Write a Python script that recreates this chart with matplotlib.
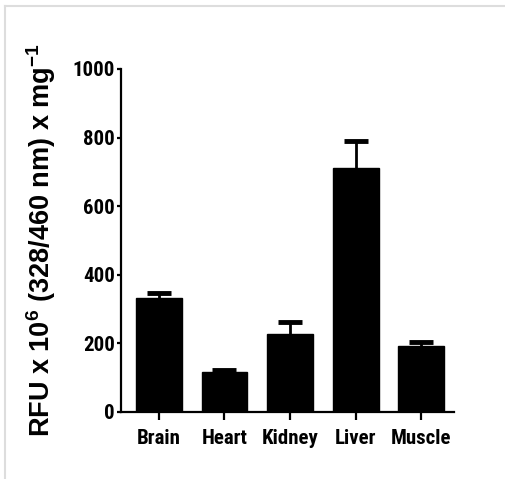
import matplotlib
matplotlib.use("Agg")
import matplotlib.pyplot as plt
from matplotlib.lines import Line2D
import matplotlib.font_manager as fm

categories = ["Brain", "Heart", "Kidney", "Liver", "Muscle"]
values = [333, 115, 228, 710, 193]
errors = [15, 7, 33, 80, 12]
yticks = [0, 200, 400, 600, 800, 1000]

names = {f.name for f in fm.fontManager.ttflist}
tick_font = "Liberation Sans"
for cand in ["Arial Narrow", "Liberation Sans Narrow", "Roboto Condensed",
             "Archivo Narrow", "PT Sans Narrow", "Asap Condensed"]:
    if cand in names:
        tick_font = cand
        break

plt.rcParams["mathtext.default"] = "bf"
plt.rcParams["mathtext.fontset"] = "custom"
plt.rcParams["mathtext.bf"] = "Liberation Sans:bold"
plt.rcParams["mathtext.rm"] = "Liberation Sans:bold"

fig = plt.figure(figsize=(5.06, 4.79), dpi=100)
ax = fig.add_axes([0.239, 0.140, 0.658, 0.716])

x = list(range(len(categories)))
tops = [v + e for v, e in zip(values, errors)]
ax.bar(x, values, width=0.7, color="black", edgecolor="black", linewidth=1, zorder=2)
ax.vlines(x, values, tops, color="black", lw=2, zorder=1)
ax.plot(x, tops, ls="none", marker="_", markersize=17, mew=3.5, color="black", zorder=1)

ax.set_xlim(-0.58, 4.5)
ax.set_ylim(0, 1000)
ax.set_yticks(yticks)
ax.set_xticks(x)
ax.set_xticklabels(categories)
for s in ["top", "right"]:
    ax.spines[s].set_visible(False)
for s in ["left", "bottom"]:
    ax.spines[s].set_linewidth(1.6)
ax.tick_params(axis="y", length=3, width=1.6, pad=1.5)
ax.tick_params(axis="x", length=6, width=1.6, pad=6)
for lab in ax.get_yticklabels():
    lab.set_fontfamily(tick_font)
    lab.set_fontweight("bold")
    lab.set_fontsize(15)
for lab in ax.get_xticklabels():
    lab.set_fontfamily(tick_font)
    lab.set_fontweight("bold")
    lab.set_fontsize(15)

ax.set_ylabel(r"RFU x 10$^{6}$ (328/460 nm) x mg$^{-1}$",
              fontfamily="Liberation Sans", fontweight="bold", fontsize=19.5)
ax.yaxis.set_label_coords(-0.19, 0.5)

# light frame lines
fig.add_artist(Line2D([5/506, 1.0], [1-5.5/479, 1-5.5/479], color="#dddddd", lw=1.5,
                      transform=fig.transFigure))
fig.add_artist(Line2D([5.5/506, 5.5/506], [0, 1-5.5/479], color="#dddddd", lw=1.5,
                      transform=fig.transFigure))

fig.savefig("out.png", dpi=100, facecolor="white")
